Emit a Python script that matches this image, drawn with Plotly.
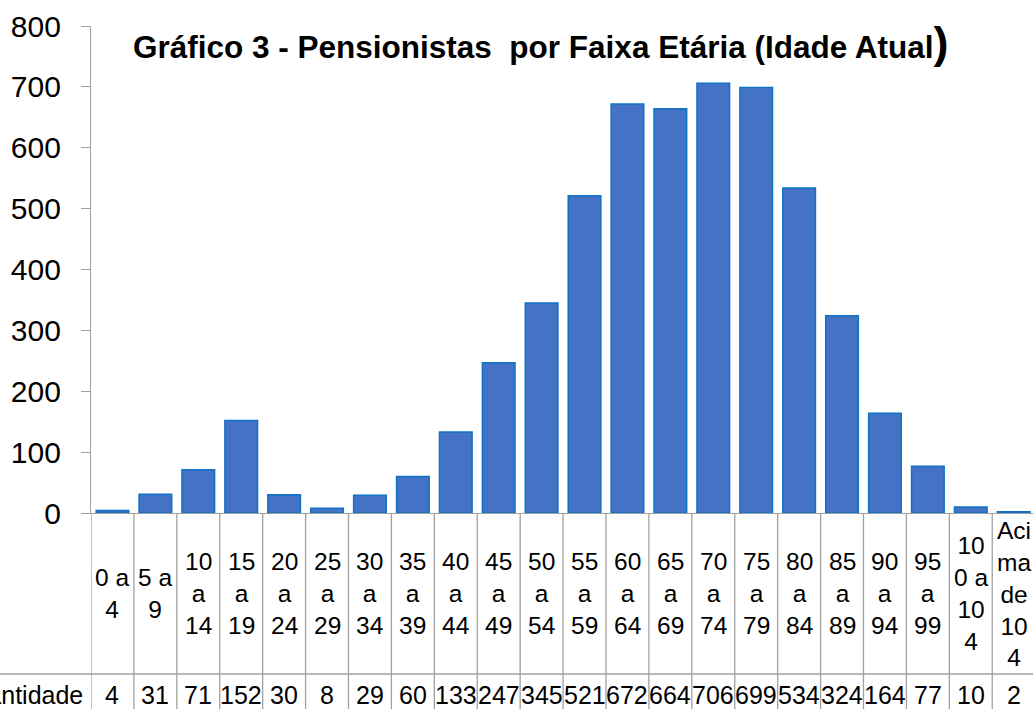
import plotly.graph_objects as go

categories = ["0 a<br>4", "5 a<br>9", "10<br>a<br>14", "15<br>a<br>19", "20<br>a<br>24",
              "25<br>a<br>29", "30<br>a<br>34", "35<br>a<br>39", "40<br>a<br>44", "45<br>a<br>49",
              "50<br>a<br>54", "55<br>a<br>59", "60<br>a<br>64", "65<br>a<br>69", "70<br>a<br>74",
              "75<br>a<br>79", "80<br>a<br>84", "85<br>a<br>89", "90<br>a<br>94", "95<br>a<br>99",
              "10<br>0 a<br>10<br>4", "Aci<br>ma<br>de<br>10<br>4"]
values = [4, 31, 71, 152, 30, 8, 29, 60, 133, 247, 345, 521, 672, 664, 706, 699,
          534, 324, 164, 77, 10, 2]
series_name = "Quantidade"
title_main = "Gráfico 3 - Pensionistas  por Faixa Etária (Idade Atual"
title_paren = ")"
y_ticks = [0, 100, 200, 300, 400, 500, 600, 700, 800]

W, H = 1033, 709
L = 91
axis_y_px = 513      # pixel row of value 0
top_y_px = 26        # pixel row of value 800
row_line_px = 674    # line between category row and values row

def py(px):
    return (H - px) / H

def pxx(px):
    return (px - L) / (W - L)

FONT = "Liberation Sans, Arial, sans-serif"
GRID = "#A0A0A0"

idx = list(range(len(categories)))

fig = go.Figure()
fig.add_trace(go.Bar(
    x=idx, y=values, name=series_name,
    marker=dict(color="#4472C4", line=dict(color="#0E72C6", width=1.5)),
))

shapes = []
for i in range(len(categories) + 1):
    shapes.append(dict(type="line", xref="x", yref="paper",
                       x0=i - 0.5, x1=i - 0.5, y0=-0.01, y1=py(axis_y_px),
                       line=dict(color=GRID, width=1.3)))
shapes.append(dict(type="line", xref="paper", yref="paper",
                   x0=pxx(-5), x1=1.01, y0=py(row_line_px), y1=py(row_line_px),
                   line=dict(color=GRID, width=1.3)))

annotations = []
cat_mid = py((axis_y_px + row_line_px) / 2)
val_mid = py(695)
for i, (c, v) in enumerate(zip(categories, values)):
    annotations.append(dict(x=i, y=cat_mid, xref="x", yref="paper", text=c,
                            showarrow=False, align="center", xanchor="center", yanchor="middle",
                            font=dict(family=FONT, size=24.5, color="black")))
    annotations.append(dict(x=i, y=val_mid, xref="x", yref="paper", text=str(v),
                            showarrow=False, xanchor="center", yanchor="middle",
                            font=dict(family=FONT, size=25, color="black")))
annotations.append(dict(x=pxx(85), y=val_mid, xref="paper", yref="paper", text=series_name,
                        showarrow=False, xanchor="right", yanchor="middle",
                        font=dict(family=FONT, size=25, color="black")))
annotations.append(dict(x=pxx(541), y=py(42), xref="paper", yref="paper",
                        text="<b>" + title_main + "</b><span style='font-size:45px'><b>" + title_paren + "</b></span>",
                        showarrow=False, xanchor="center", yanchor="middle",
                        font=dict(family=FONT, size=31.5, color="black")))

fig.update_layout(
    width=W, height=H,
    margin=dict(l=L, r=0, t=0, b=0, pad=0, autoexpand=False),
    paper_bgcolor="white", plot_bgcolor="white",
    showlegend=False,
    bargap=0.24,
    shapes=shapes,
    annotations=annotations,
    xaxis=dict(range=[-0.5, 21.45], showticklabels=False, ticks="", showgrid=False,
               zeroline=False, showline=True, linecolor=GRID, linewidth=1.3, domain=[0, 1],
               automargin=False),
    yaxis=dict(range=[0, 800], tickvals=y_ticks, showgrid=False, zeroline=False,
               showline=True, linecolor=GRID, linewidth=1.3,
               ticks="outside", ticklen=9, tickcolor=GRID, tickwidth=1.3,
               ticklabelstandoff=14, automargin=False,
               tickfont=dict(family=FONT, size=30, color="black"),
               domain=[py(axis_y_px), py(top_y_px)]),
)

fig.write_html("out.html", config={"displayModeBar": False},
               post_script="document.body.style.margin='0';document.body.style.overflow='hidden';")
